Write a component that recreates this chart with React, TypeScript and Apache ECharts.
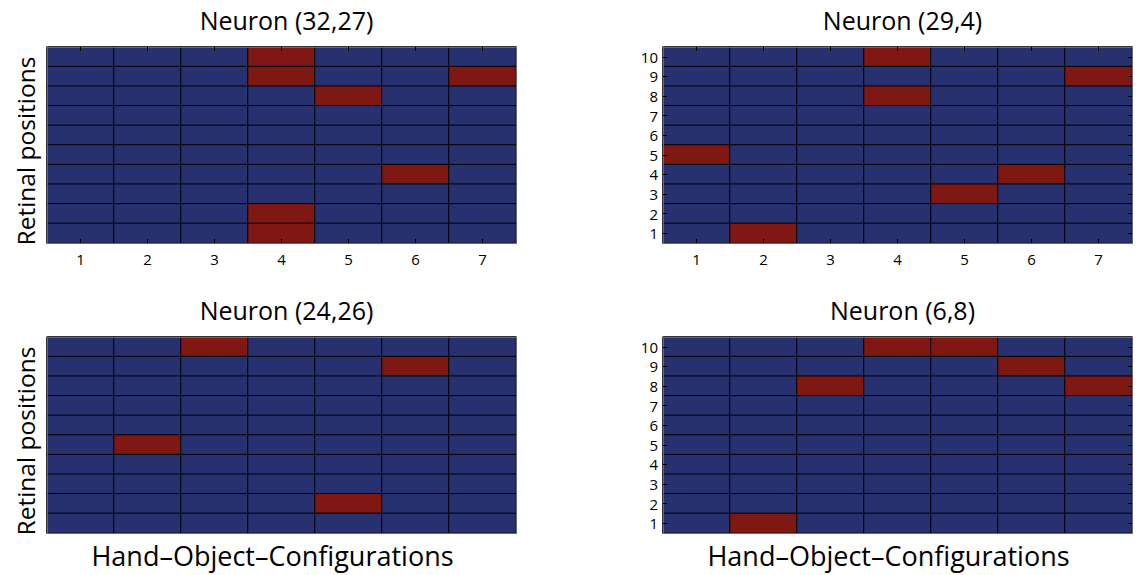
import React, { useEffect, useRef } from "react";
import * as echarts from "echarts";

const columns = ["1", "2", "3", "4", "5", "6", "7"];
const rows = ["1", "2", "3", "4", "5", "6", "7", "8", "9", "10"];

const panelTitles = ["Neuron (32,27)", "Neuron (29,4)", "Neuron (24,26)", "Neuron (6,8)"];
const xAxisTitle = "Hand\u2013Object\u2013Configurations";
const yAxisTitle = "Retinal positions";

// Activation matrices, listed from top row (10) down to bottom row (1), 7 configurations each.
const neuron32_27 = [
  [0, 0, 0, 1, 0, 0, 0],
  [0, 0, 0, 1, 0, 0, 1],
  [0, 0, 0, 0, 1, 0, 0],
  [0, 0, 0, 0, 0, 0, 0],
  [0, 0, 0, 0, 0, 0, 0],
  [0, 0, 0, 0, 0, 0, 0],
  [0, 0, 0, 0, 0, 1, 0],
  [0, 0, 0, 0, 0, 0, 0],
  [0, 0, 0, 1, 0, 0, 0],
  [0, 0, 0, 1, 0, 0, 0],
];
const neuron29_4 = [
  [0, 0, 0, 1, 0, 0, 0],
  [0, 0, 0, 0, 0, 0, 1],
  [0, 0, 0, 1, 0, 0, 0],
  [0, 0, 0, 0, 0, 0, 0],
  [0, 0, 0, 0, 0, 0, 0],
  [1, 0, 0, 0, 0, 0, 0],
  [0, 0, 0, 0, 0, 1, 0],
  [0, 0, 0, 0, 1, 0, 0],
  [0, 0, 0, 0, 0, 0, 0],
  [0, 1, 0, 0, 0, 0, 0],
];
const neuron24_26 = [
  [0, 0, 1, 0, 0, 0, 0],
  [0, 0, 0, 0, 0, 1, 0],
  [0, 0, 0, 0, 0, 0, 0],
  [0, 0, 0, 0, 0, 0, 0],
  [0, 0, 0, 0, 0, 0, 0],
  [0, 1, 0, 0, 0, 0, 0],
  [0, 0, 0, 0, 0, 0, 0],
  [0, 0, 0, 0, 0, 0, 0],
  [0, 0, 0, 0, 1, 0, 0],
  [0, 0, 0, 0, 0, 0, 0],
];
const neuron6_8 = [
  [0, 0, 0, 1, 1, 0, 0],
  [0, 0, 0, 0, 0, 1, 0],
  [0, 0, 1, 0, 0, 0, 1],
  [0, 0, 0, 0, 0, 0, 0],
  [0, 0, 0, 0, 0, 0, 0],
  [0, 0, 0, 0, 0, 0, 0],
  [0, 0, 0, 0, 0, 0, 0],
  [0, 0, 0, 0, 0, 0, 0],
  [0, 0, 0, 0, 0, 0, 0],
  [0, 1, 0, 0, 0, 0, 0],
];

const matrices = [neuron32_27, neuron29_4, neuron24_26, neuron6_8];

const BLUE = "#283170";
const RED = "#7f1713";
const FONT = "'Open Sans', 'Noto Sans', sans-serif";

function toData(m: number[][]) {
  const out: number[][] = [];
  m.forEach((row, ri) => {
    const y = m.length - 1 - ri;
    row.forEach((v, x) => out.push([x, y, v]));
  });
  return out;
}

export default function App() {
  const ref = useRef<HTMLDivElement>(null);
  useEffect(() => {
    if (!ref.current) return;
    const chart = echarts.init(ref.current, undefined, { renderer: "svg" });

    const grids = [
      { left: 47, top: 47, width: 469, height: 196 },
      { left: 663, top: 47, width: 469, height: 196 },
      { left: 47, top: 337, width: 469, height: 196 },
      { left: 663, top: 337, width: 469, height: 196 },
    ];
    const showXTicks = [true, true, false, false];
    const showYTicks = [false, true, false, true];
    const xName = [false, false, true, true];
    const yName = [true, false, true, false];

    const axisLine = { show: true, lineStyle: { color: "#6a6a6a", width: 1 } };
    const xAxis: any[] = [];
    const yAxis: any[] = [];
    grids.forEach((_, p) => {
      const tick = (s: boolean) => ({
        show: s,
        inside: true,
        alignWithLabel: true,
        length: 4,
        lineStyle: { color: "#000", width: 1 },
      });
      xAxis.push({
        type: "category",
        gridIndex: p,
        data: columns,
        position: "bottom",
        axisLine,
        axisTick: tick(showXTicks[p]),
        axisLabel: { show: showXTicks[p], fontSize: 15, color: "#000", margin: 8, fontFamily: FONT },
        splitLine: { show: false },
        z: 5,
      });
      xAxis.push({
        type: "category",
        gridIndex: p,
        data: columns,
        position: "top",
        axisLine,
        axisTick: tick(showXTicks[p]),
        axisLabel: { show: false },
        splitLine: { show: false },
        z: 5,
      });
      yAxis.push({
        type: "category",
        gridIndex: p,
        data: rows,
        position: "left",
        axisLine,
        axisTick: tick(showYTicks[p]),
        axisLabel: { show: showYTicks[p], fontSize: 15, color: "#000", margin: 5, fontFamily: FONT },
        splitLine: { show: false },
        z: 5,
      });
      yAxis.push({
        type: "category",
        gridIndex: p,
        data: rows,
        position: "right",
        axisLine,
        axisTick: tick(showYTicks[p]),
        axisLabel: { show: false },
        splitLine: { show: false },
        z: 5,
      });
    });

    const series = matrices.map((m, p) => ({
      type: "heatmap",
      xAxisIndex: 2 * p,
      yAxisIndex: 2 * p,
      data: toData(m),
      itemStyle: { borderColor: "#000", borderWidth: 1 },
      emphasis: { disabled: true },
    }));

    const title = grids.map((g, p) => ({
      text: panelTitles[p],
      left: g.left + g.width / 2,
      top: g.top - 45,
      textAlign: "center",
      textStyle: { fontSize: 25, fontWeight: "normal", color: "#000", fontFamily: FONT },
    }));

    const graphic: any[] = [];
    grids.forEach((g, p) => {
      if (yName[p]) {
        graphic.push({
          type: "text",
          x: 25,
          y: g.top + g.height / 2 + 6,
          rotation: Math.PI / 2,
          style: {
            text: yAxisTitle,
            fontSize: 24.5,
            fontFamily: FONT,
            fill: "#000",
            align: "center",
            verticalAlign: "middle",
          },
        });
      }
      if (xName[p]) {
        graphic.push({
          type: "text",
          x: g.left + g.width / 2 - 9,
          y: g.top + g.height + 22,
          style: {
            text: xAxisTitle,
            fontSize: 27,
            fontFamily: FONT,
            fill: "#000",
            align: "center",
            verticalAlign: "middle",
          },
        });
      }
    });

    chart.setOption({
      animation: false,
      backgroundColor: "#fff",
      title,
      grid: grids,
      xAxis,
      yAxis,
      graphic,
      visualMap: {
        type: "piecewise",
        show: false,
        seriesIndex: [0, 1, 2, 3],
        dimension: 2,
        pieces: [
          { min: -0.5, max: 0.5, color: BLUE },
          { min: 0.5, max: 1.5, color: RED },
        ],
      },
      series,
    });
    return () => chart.dispose();
  }, []);
  return (
    <div
      ref={ref}
      style={{ position: "fixed", left: 0, top: 0, width: 1139, height: 575 }}
    />
  );
}
